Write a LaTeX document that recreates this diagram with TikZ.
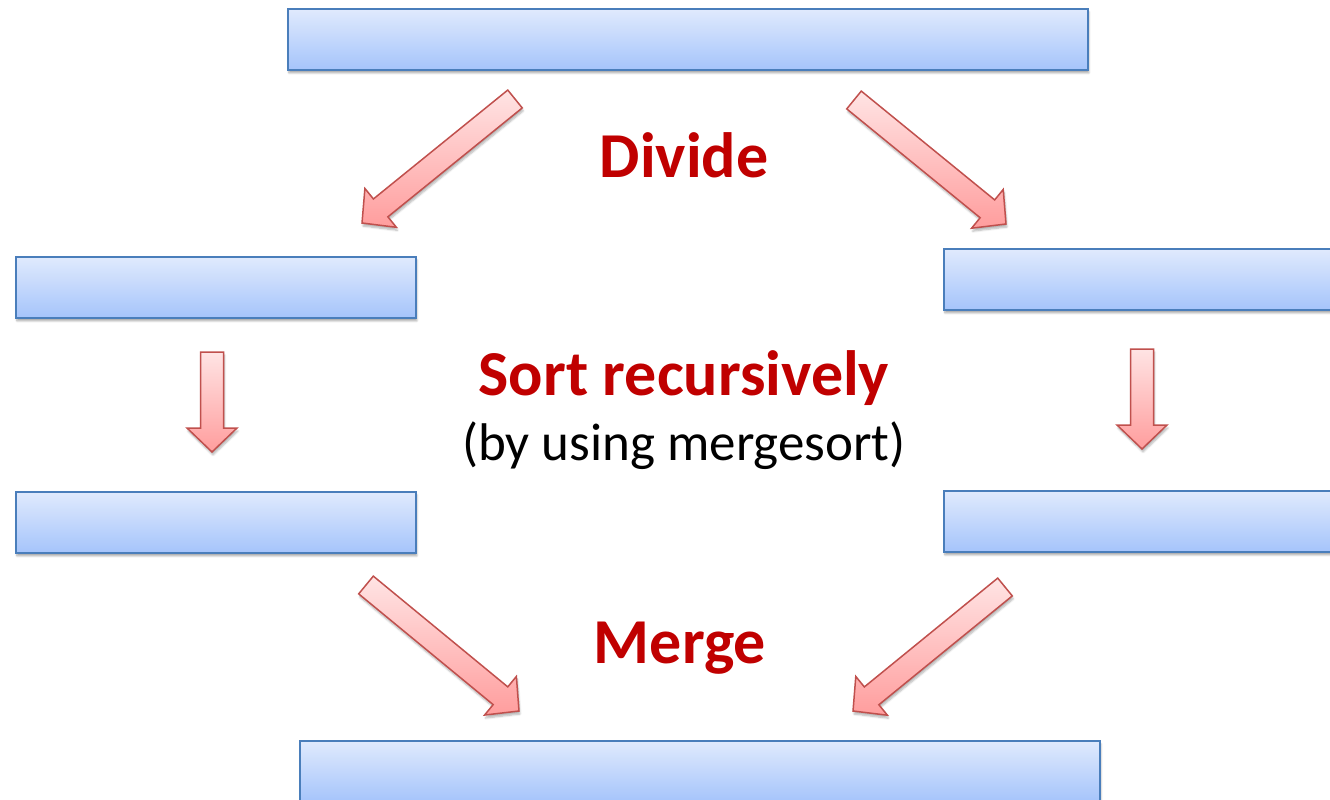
\documentclass[tikz,border=0pt]{standalone}
\usepackage{fontspec}
\setmainfont{Carlito}
\usetikzlibrary{calc,shadows.blur}

\definecolor{boxtop}{HTML}{E0EAFD}
\definecolor{boxbot}{HTML}{A5C4FB}
\definecolor{boxline}{HTML}{4A7EBB}
\definecolor{arrtop}{HTML}{FFE4E4}
\definecolor{arrbot}{HTML}{FF9D9D}
\definecolor{arrline}{HTML}{C0504D}
\definecolor{lbl}{HTML}{C00000}

\tikzset{
  bar/.style={draw=boxline,line width=1.8pt,top color=boxtop,bottom color=boxbot,
    minimum height=61pt,inner sep=0pt,anchor=north west,
    blur shadow={shadow xshift=1pt,shadow yshift=-3pt,shadow opacity=35,shadow blur steps=6}},
  fatarrow/.style={draw=arrline,line width=1.5pt,top color=arrtop,bottom color=arrbot,line join=miter,
    blur shadow={shadow xshift=1pt,shadow yshift=-3pt,shadow opacity=30,shadow blur steps=6}},
  step label/.style={font=\bfseries\fontsize{64}{64}\selectfont,text=lbl}
}

% block arrow from tail #1 to tip #2
\newcommand{\fatarrow}[2]{
  \coordinate (hb) at ($(#2)!24pt!(#1)$);
  \path[fatarrow] ($(#1)!11.5pt!90:(#2)$) -- ($(hb)!11.5pt!-90:(#1)$)
    -- ($(hb)!25pt!-90:(#1)$) -- (#2) -- ($(hb)!25pt!90:(#1)$)
    -- ($(hb)!11.5pt!90:(#1)$) -- ($(#1)!11.5pt!-90:(#2)$) -- cycle;
}

\begin{document}
\begin{tikzpicture}[x=1pt,y=-1pt]
  \useasboundingbox (0,0) rectangle (1330,800);

  % the arrays
  \node[bar,minimum width=800pt] (whole) at (287,8) {};
  \node[bar,minimum width=400pt] (lhalf) at (15,256) {};
  \node[bar,minimum width=420pt] (rhalf) at (943,248) {};
  \node[bar,minimum width=400pt] (lsorted) at (15,491) {};
  \node[bar,minimum width=420pt] (rsorted) at (943,490) {};
  \node[bar,minimum width=800pt] (merged) at (299,740) {};

  % labels
  \node[step label] (divide) at (684,155) {Divide};
  \node[step label] (sortrec) at (684,378) {Sort recursively};
  \node[font=\fontsize{53}{53}\selectfont] (byms) at (684,446) {(by using mergesort)};
  \node[step label] (merge) at (680,648) {Merge};

  % arrow ends
  \coordinate (d1t) at (515,99);   \coordinate (d1h) at (362,223);
  \coordinate (d2t) at (854,100);  \coordinate (d2h) at (1006,224);
  \coordinate (s1t) at (212,352);  \coordinate (s1h) at (212,452);
  \coordinate (s2t) at (1142,349); \coordinate (s2h) at (1142,449);
  \coordinate (m1t) at (366,585);  \coordinate (m1h) at (519,711);
  \coordinate (m2t) at (1005,587); \coordinate (m2h) at (853,711);

  \fatarrow{d1t}{d1h}
  \fatarrow{d2t}{d2h}
  \fatarrow{s1t}{s1h}
  \fatarrow{s2t}{s2h}
  \fatarrow{m1t}{m1h}
  \fatarrow{m2t}{m2h}
\end{tikzpicture}
\end{document}
